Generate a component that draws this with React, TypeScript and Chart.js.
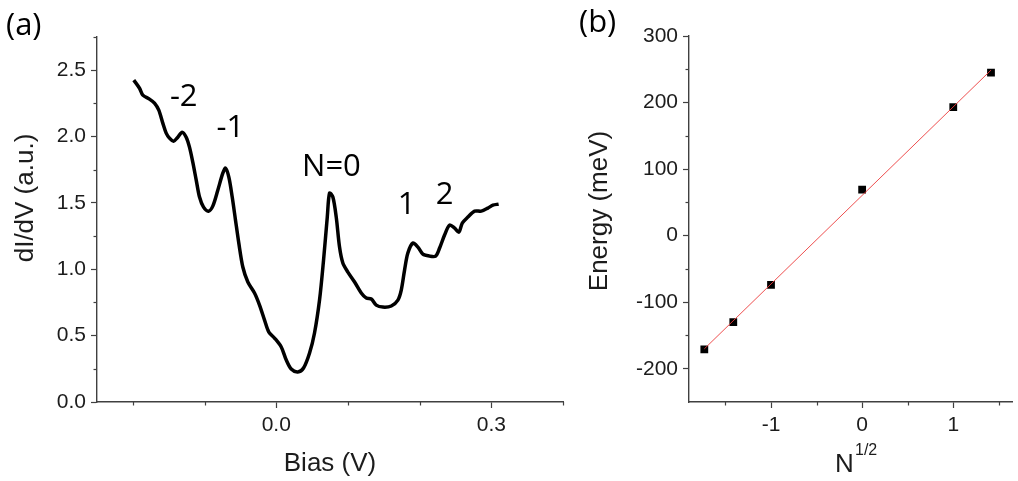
import React, { useEffect, useRef } from "react";
import { Chart, registerables } from "chart.js";
Chart.register(...registerables);

// ---------- Panel (a): dI/dV spectrum ----------
const biasV = [
  -0.1987, -0.1907, -0.1861, -0.1768, -0.1698, -0.1638, -0.1582, -0.1535, -0.1489, -0.1433,
  -0.1373, -0.1312, -0.1256, -0.121, -0.1164, -0.1116, -0.107, -0.1014, -0.0945, -0.0885,
  -0.0815, -0.0745, -0.0707, -0.0661, -0.0614, -0.0568, -0.0522, -0.0466, -0.0396, -0.0303,
  -0.0233, -0.0163, -0.0103, -0.0024, 0.007, 0.014, 0.0209, 0.0301, 0.0381, 0.0465,
  0.0534, 0.0604, 0.066, 0.0712, 0.0744, 0.079, 0.0837, 0.0883, 0.0929, 0.0999,
  0.1093, 0.1186, 0.1256, 0.1326, 0.1395, 0.1487, 0.1605, 0.1697, 0.1744, 0.179,
  0.1836, 0.1906, 0.1976, 0.2045, 0.2139, 0.2223, 0.2279, 0.2348, 0.2418, 0.2488,
  0.2548, 0.2595, 0.2673, 0.2767, 0.286, 0.2952, 0.3022, 0.3102,
];
const dIdV = [
  2.425, 2.364, 2.312, 2.282, 2.252, 2.199, 2.101, 2.026, 1.988, 1.965,
  1.995, 2.033, 1.995, 1.92, 1.807, 1.672, 1.544, 1.468, 1.438, 1.476,
  1.596, 1.724, 1.762, 1.694, 1.544, 1.37, 1.197, 1.017, 0.904, 0.821,
  0.73, 0.617, 0.527, 0.482, 0.414, 0.316, 0.248, 0.226, 0.256, 0.369,
  0.52, 0.768, 1.069, 1.393, 1.574, 1.544, 1.393, 1.167, 1.047, 0.979,
  0.904, 0.821, 0.783, 0.776, 0.73, 0.715, 0.723, 0.768, 0.843, 0.994,
  1.122, 1.197, 1.167, 1.114, 1.099, 1.099, 1.16, 1.258, 1.333, 1.31,
  1.28, 1.348, 1.393, 1.438, 1.438, 1.461, 1.483, 1.491,
];
const peakLabels = ["-2", "-1", "N=0", "1", "2"];
const peakLabelX = [-0.129, -0.064, 0.077, 0.182, 0.235];
const peakLabelY = [2.3, 2.06, 1.77, 1.48, 1.56];
const aXMinor = [-0.2, -0.1, 0.1, 0.2, 0.4];
const aYMinor = [0.25, 0.75, 1.25, 1.75, 2.25, 2.75];

// ---------- Panel (b): Energy vs N^1/2 ----------
const sqrtN = [-1.732, -1.414, -1, 0, 1, 1.414];
const energyMeV = [-171, -130, -74, 69, 193, 245];
const bXMinor = [-1.5, -0.5, 0.5, 1.5];
const bYMinor = [-150, -50, 50, 150, 250];

const AXIS = "#404040";
const TXT = "#1c1c1c";
const SANS = "'Liberation Sans', Arial, sans-serif";
const CAL = "'Open Sans', sans-serif";

function fitLine(xs: number[], ys: number[]) {
  const n = xs.length;
  const mx = xs.reduce((a, b) => a + b, 0) / n;
  const my = ys.reduce((a, b) => a + b, 0) / n;
  let sxy = 0, sxx = 0;
  for (let i = 0; i < n; i++) {
    sxy += (xs[i] - mx) * (ys[i] - my);
    sxx += (xs[i] - mx) * (xs[i] - mx);
  }
  const k = sxy / sxx;
  const b = my - k * mx;
  const x0 = Math.min(...xs), x1 = Math.max(...xs);
  return [
    { x: x0, y: k * x0 + b },
    { x: x1, y: k * x1 + b },
  ];
}

function minorTicks(xMinor: number[], yMinor: number[]) {
  return {
    id: "minorTicks",
    afterDraw(chart: any) {
      const ctx = chart.ctx;
      const { x, y } = chart.scales;
      const { left, bottom } = chart.chartArea;
      ctx.save();
      ctx.strokeStyle = AXIS;
      ctx.lineWidth = 1.2;
      for (const v of xMinor) {
        const px = Math.round(x.getPixelForValue(v)) + 0.5;
        ctx.beginPath();
        ctx.moveTo(px, bottom);
        ctx.lineTo(px, bottom + 3.5);
        ctx.stroke();
      }
      for (const v of yMinor) {
        const py = Math.round(y.getPixelForValue(v)) + 0.5;
        ctx.beginPath();
        ctx.moveTo(left, py);
        ctx.lineTo(left - 3.5, py);
        ctx.stroke();
      }
      ctx.restore();
    },
  };
}

const textA = {
  id: "textA",
  afterDraw(chart: any) {
    const ctx = chart.ctx;
    const { x, y } = chart.scales;
    const ca = chart.chartArea;
    ctx.save();
    ctx.fillStyle = "#000";
    ctx.textAlign = "center";
    ctx.textBaseline = "middle";
    ctx.font = `31px ${CAL}`;
    peakLabels.forEach((t, i) => {
      ctx.fillText(t, x.getPixelForValue(peakLabelX[i]), y.getPixelForValue(peakLabelY[i]));
    });
    ctx.font = `31px ${CAL}`;
    ctx.textAlign = "left";
    ctx.fillText("(a)", 6, 26);
    ctx.fillStyle = TXT;
    ctx.font = `26px ${SANS}`;
    ctx.textAlign = "center";
    ctx.fillText("Bias (V)", (ca.left + ca.right) / 2, 464);
    ctx.translate(26, 198);
    ctx.rotate(-Math.PI / 2);
    ctx.fillText("dI/dV (a.u.)", 0, 0);
    ctx.restore();
  },
};

const textB = {
  id: "textB",
  afterDraw(chart: any) {
    const ctx = chart.ctx;
    ctx.save();
    ctx.fillStyle = "#000";
    ctx.textBaseline = "middle";
    ctx.font = `31px ${CAL}`;
    ctx.textAlign = "left";
    ctx.fillText("(b)", 39, 23);
    ctx.fillStyle = TXT;
    ctx.font = `26px ${SANS}`;
    ctx.textAlign = "left";
    ctx.fillText("N", 295, 465);
    ctx.font = `16px ${SANS}`;
    ctx.fillText("1/2", 315, 451);
    ctx.font = `26px ${SANS}`;
    ctx.textAlign = "center";
    ctx.translate(60, 211);
    ctx.rotate(-Math.PI / 2);
    ctx.fillText("Energy (meV)", 0, 0);
    ctx.restore();
  },
};

function axisBase(extra: any) {
  return {
    grid: { drawOnChartArea: false, tickLength: 6, tickColor: AXIS, tickWidth: 1.2 },
    border: { color: AXIS, width: 1.4 },
    ...extra,
  };
}

export default function App() {
  const refA = useRef<HTMLCanvasElement>(null);
  const refB = useRef<HTMLCanvasElement>(null);

  useEffect(() => {
    const tickFont = { family: SANS, size: 21 };
    const chartA = new Chart(refA.current!, {
      type: "line",
      data: {
        datasets: [
          {
            data: biasV.map((v, i) => ({ x: v, y: dIdV[i] })),
            borderColor: "#000",
            borderWidth: 3.5,
            pointRadius: 0,
            tension: 0.3,
            fill: false,
          },
        ],
      },
      options: {
        animation: false,
        responsive: false,
        events: [],
        layout: { padding: { left: 0, top: 37, right: 17, bottom: 0 } },
        plugins: { legend: { display: false }, tooltip: { enabled: false } },
        scales: {
          x: axisBase({
            type: "linear",
            min: -0.25,
            max: 0.4,
            afterFit: (s: any) => { s.height = 79; },
            ticks: {
              stepSize: 0.3,
              includeBounds: false,
              font: tickFont,
              color: TXT,
              padding: 5,
              callback: (v: any) => Number(v).toFixed(1),
            },
          }),
          y: axisBase({
            min: 0,
            max: 2.75,
            afterFit: (s: any) => { s.width = 97; },
            ticks: {
              stepSize: 0.5,
              includeBounds: false,
              font: tickFont,
              color: TXT,
              padding: 5,
              callback: (v: any) => Number(v).toFixed(1),
            },
          }),
        },
      },
      plugins: [minorTicks(aXMinor, aYMinor), textA],
    } as any);

    const chartB = new Chart(refB.current!, {
      type: "scatter",
      data: {
        datasets: [
          {
            type: "line",
            data: fitLine(sqrtN, energyMeV),
            borderColor: "rgba(236,60,60,0.9)",
            borderWidth: 1,
            pointRadius: 0,
            fill: false,
          },
          {
            data: sqrtN.map((v, i) => ({ x: v, y: energyMeV[i] })),
            backgroundColor: "#000",
            borderColor: "#000",
            pointStyle: "rect",
            pointRadius: 5.5,
            borderWidth: 0,
          },
        ],
      },
      options: {
        animation: false,
        responsive: false,
        events: [],
        layout: { padding: { left: 0, top: 36, right: 5, bottom: 0 } },
        plugins: { legend: { display: false }, tooltip: { enabled: false } },
        scales: {
          x: axisBase({
            type: "linear",
            min: -1.9,
            max: 1.65,
            afterFit: (s: any) => { s.height = 79; },
            ticks: {
              stepSize: 1,
              includeBounds: false,
              font: tickFont,
              color: TXT,
              padding: 5,
              callback: (v: any) => String(Math.round(Number(v))),
            },
          }),
          y: axisBase({
            min: -250,
            max: 300,
            afterFit: (s: any) => { s.width = 149; },
            ticks: {
              stepSize: 100,
              includeBounds: false,
              font: tickFont,
              color: TXT,
              padding: 5,
              callback: (v: any) => String(Math.round(Number(v))),
            },
          }),
        },
      },
      plugins: [minorTicks(bXMinor, bYMinor), textB],
    } as any);

    return () => {
      chartA.destroy();
      chartB.destroy();
    };
  }, []);

  return (
    <div style={{ position: "fixed", left: 0, top: 0, width: 1018, height: 481, background: "#fff" }}>
      <canvas ref={refA} width={580} height={481} style={{ position: "absolute", left: 0, top: 0 }} />
      <canvas ref={refB} width={478} height={481} style={{ position: "absolute", left: 540, top: 0 }} />
    </div>
  );
}
